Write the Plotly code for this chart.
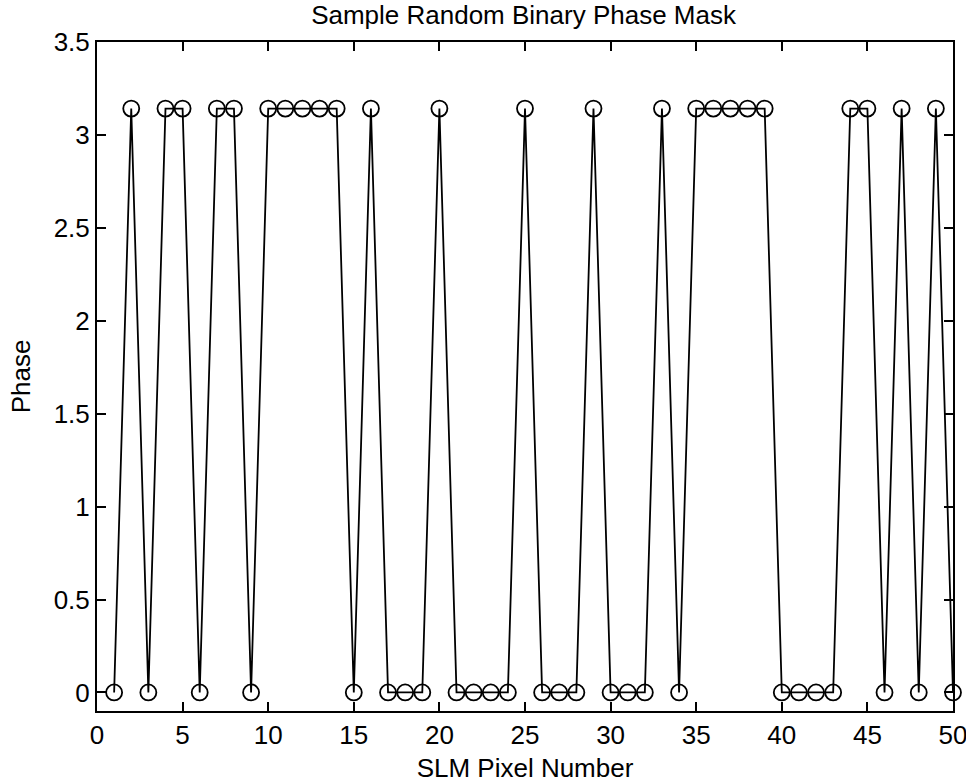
import numpy as np
import plotly.graph_objects as go

PI = np.pi
pixels = list(range(1, 51))
phase_bits = [0, 1, 0, 1, 1, 0, 1, 1, 0, 1,
              1, 1, 1, 1, 0, 1, 0, 0, 0, 1,
              0, 0, 0, 0, 1, 0, 0, 0, 1, 0,
              0, 0, 1, 0, 1, 1, 1, 1, 1, 0,
              0, 0, 0, 1, 1, 0, 1, 0, 1, 0]
phase = [b * PI for b in phase_bits]
x_ticks = [0, 5, 10, 15, 20, 25, 30, 35, 40, 45, 50]
y_ticks = [0, 0.5, 1, 1.5, 2, 2.5, 3, 3.5]
y_tick_text = ["0", "0.5", "1", "1.5", "2", "2.5", "3", "3.5"]

FONT = "Liberation Sans, Arial, sans-serif"
FS = 26

fig = go.Figure()
fig.add_trace(go.Scatter(
    x=pixels, y=phase, mode="lines+markers",
    line=dict(color="black", width=1.8),
    marker=dict(symbol="circle-open", size=16, color="black", line=dict(width=1.8)),
    cliponaxis=False,
    showlegend=False,
))

axis_common = dict(
    showline=True, linecolor="black", linewidth=2, mirror="ticks",
    ticks="inside", ticklen=9, tickwidth=2, tickcolor="black",
    showgrid=False, zeroline=False, automargin=False,
    tickfont=dict(family=FONT, size=FS, color="black"),
    ticklabeloverflow="allow",
)

fig.update_layout(
    template="none",
    width=966, height=784,
    margin=dict(l=97, r=13, t=42, b=73),
    paper_bgcolor="white", plot_bgcolor="white",
    title=dict(text="Sample Random Binary Phase Mask", x=0.542, xanchor="center",
               y=0.981, yanchor="middle",
               font=dict(family=FONT, size=FS, color="black")),
    xaxis=dict(range=[0, 50], tickvals=x_ticks,
               title=dict(text="SLM Pixel Number", standoff=10,
                          font=dict(family=FONT, size=FS, color="black")),
               **axis_common),
    yaxis=dict(range=[-0.1, 3.5], tickvals=y_ticks, ticktext=y_tick_text,
               title=dict(text="Phase", standoff=16,
                          font=dict(family=FONT, size=FS, color="black")),
               **axis_common),
)

fig.write_html("out.html")
